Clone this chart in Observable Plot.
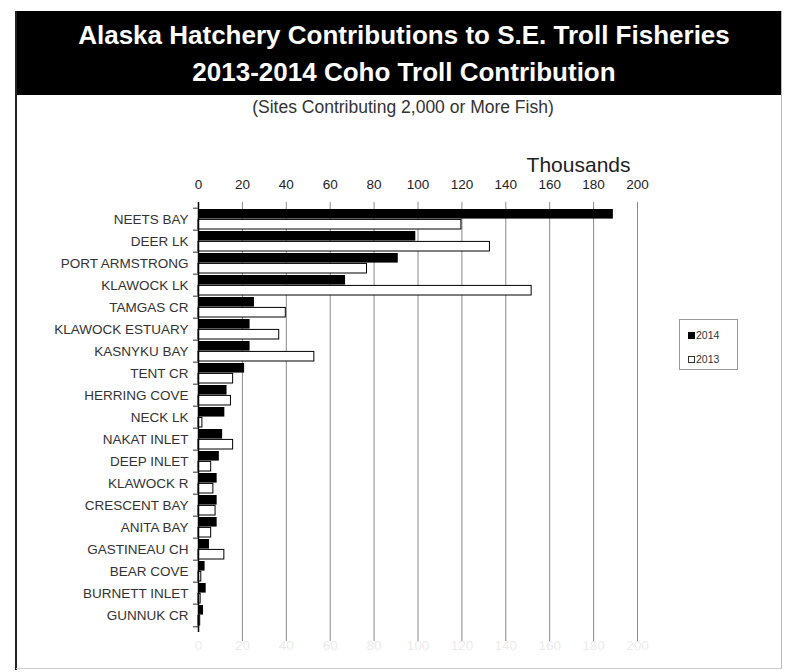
<!DOCTYPE html>
<html><head><meta charset="utf-8">
<script src="https://cdn.jsdelivr.net/npm/d3@7"></script>
<script src="https://cdn.jsdelivr.net/npm/@observablehq/plot@0.6"></script>
<style>
body{margin:0;background:#fff;font-family:"Liberation Sans",Arial,sans-serif;}
#wrap{position:relative;width:786px;height:672px;overflow:hidden;background:#fff;}
#band{position:absolute;left:16px;top:11px;width:766px;height:84px;background:#000;}
.tl{position:absolute;left:5px;width:100%;text-align:center;color:#fff;font-weight:bold;font-size:26px;line-height:30px;}
#sub{position:absolute;left:20px;width:766px;top:97px;text-align:center;font-size:17.5px;line-height:20px;color:#333;}
#lb{position:absolute;left:15px;top:11px;width:2px;height:659px;background:#222;}
#rb{position:absolute;left:781px;top:11px;width:1px;height:658px;background:#bbb;}
#bb{position:absolute;left:16px;top:668px;width:766px;height:1px;background:#ccc;}
#chart{position:absolute;left:0;top:140px;}
#legend{position:absolute;left:679px;top:319px;width:59px;height:51px;border:1px solid #999;box-sizing:border-box;font-size:10.5px;color:#333;}
.li{position:absolute;left:8px;height:14px;line-height:14px;white-space:nowrap;}
.sw{display:inline-block;width:7px;height:7px;margin-right:1px;vertical-align:0px;box-sizing:border-box;}
</style></head>
<body>
<div id="wrap">
  <div id="band">
    <div class="tl" style="top:9px">Alaska Hatchery Contributions to S.E. Troll Fisheries</div>
    <div class="tl" style="top:46px">2013-2014 Coho Troll Contribution</div>
  </div>
  <div id="sub">(Sites Contributing 2,000 or More Fish)</div>
  <div id="chart"></div>
  <div id="legend">
    <div class="li" style="top:8px"><span class="sw" style="background:#000"></span>2014</div>
    <div class="li" style="top:32px"><span class="sw" style="background:#fff;border:1px solid #333"></span>2013</div>
  </div>
  <div id="lb"></div><div id="rb"></div><div id="bb"></div>
</div>
<script>
const sites = ["NEETS BAY","DEER LK","PORT ARMSTRONG","KLAWOCK LK","TAMGAS CR","KLAWOCK ESTUARY","KASNYKU BAY","TENT CR","HERRING COVE","NECK LK","NAKAT INLET","DEEP INLET","KLAWOCK R","CRESCENT BAY","ANITA BAY","GASTINEAU CH","BEAR COVE","BURNETT INLET","GUNNUK CR"];
const v2014 = [189, 99, 91, 67, 25.5, 23.5, 23.5, 21, 13, 12, 11, 9.5, 8.5, 8.5, 8.5, 5, 3, 3.5, 2.3];
const v2013 = [120, 133, 77, 152, 40, 37, 53, 16, 15, 2, 16, 6, 7, 8, 6, 12, 1.5, 1.2, 1];
const xTicks = [0,20,40,60,80,100,120,140,160,180,200];

const rows = sites.map((s, i) => ({site: s, v2014: v2014[i], v2013: v2013[i]}));

const W = 786, H = 530, mT = 62, mB = 38, mL = 198, mR = 149;
const pi = 0.08, po = 0.04;
const step = (H - mT - mB) / (sites.length - pi + 2 * po);
const bw = step * (1 - pi);
const half = bw / 2;

const plot = Plot.plot({
  width: W, height: H,
  marginLeft: mL, marginRight: mR, marginTop: mT, marginBottom: mB,
  style: {fontFamily: "'Liberation Sans', Arial, sans-serif", fontSize: "13.5px", color: "#333", background: "transparent", overflow: "visible"},
  x: {domain: [0, 200], ticks: xTicks},
  y: {domain: sites, paddingInner: pi, paddingOuter: po},
  marks: [
    Plot.ruleX(xTicks.slice(1), {stroke: "#8a8a8a", strokeWidth: 1, insetBottom: -9}),
    Plot.barX(rows, {y: "site", x: "v2014", fill: "#000", insetBottom: half}),
    Plot.barX(rows, {y: "site", x: "v2013", fill: "#fff", stroke: "#000", strokeWidth: 1, insetTop: half, insetRight: 0.5}),
    Plot.ruleX([0], {stroke: "#000", strokeWidth: 1.5}),
    Plot.ruleY(sites, {y: d => d, x1: -2.3, x2: 0, dy: -step / 2, stroke: "#333"}),
    Plot.ruleY([sites[sites.length - 1]], {y: d => d, x1: -2.3, x2: 0, dy: step / 2, stroke: "#333"}),
    Plot.axisX({anchor: "top", ticks: xTicks, tickSize: 0, tickPadding: 14, label: null, fontSize: "13.5px", fill: "#222"}),
    Plot.axisX({anchor: "bottom", ticks: xTicks, tickSize: 0, tickPadding: 8, label: null, fontSize: "13.5px", fill: "#ececec"}),
    Plot.axisY({tickSize: 0, tickPadding: 10, label: null, fontSize: "13.5px", fill: "#333"}),
    Plot.text(["Thousands"], {frameAnchor: "top-right", dy: -45, dx: -7, fontSize: 21, fill: "#222", text: d => d})
  ]
});
document.getElementById("chart").appendChild(plot);
</script>
</body></html>
